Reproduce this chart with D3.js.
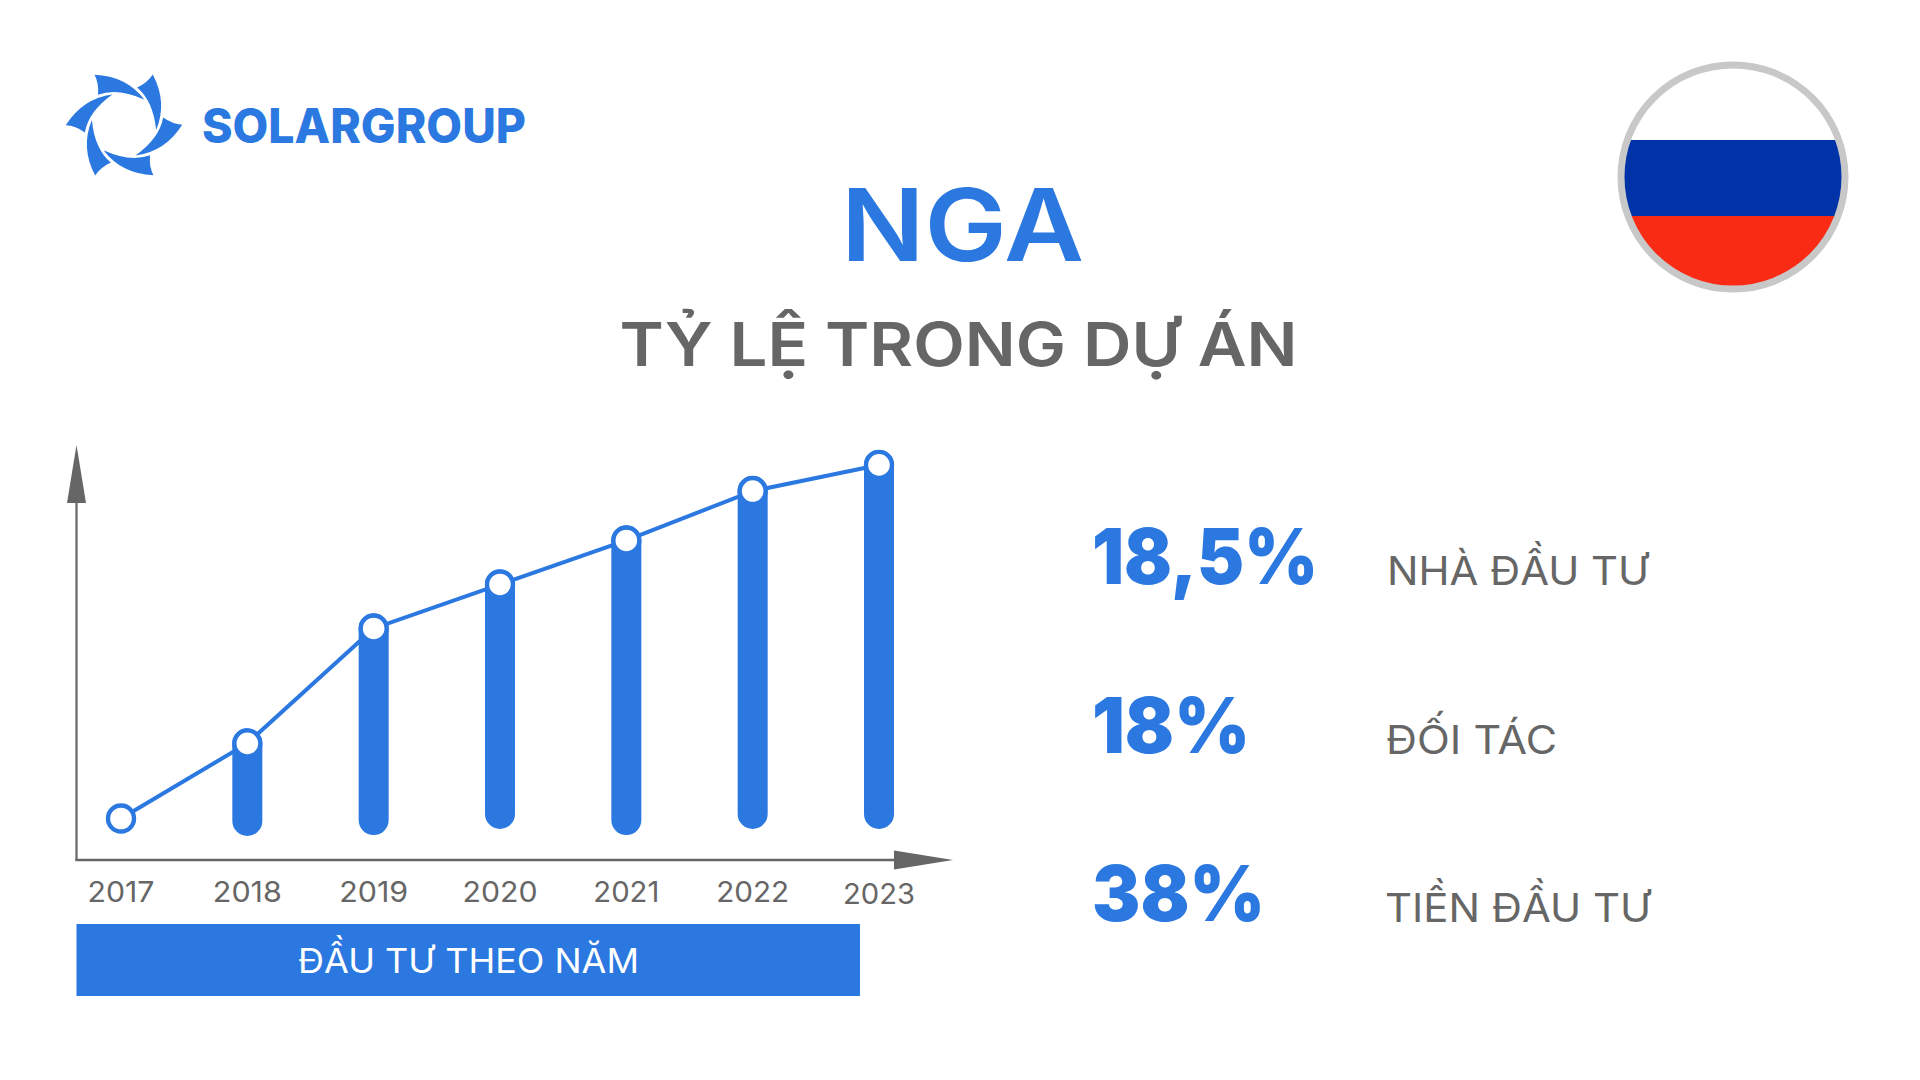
<!DOCTYPE html>
<html lang="vi">
<head>
<meta charset="utf-8">
<script src="https://cdn.jsdelivr.net/npm/d3@7"></script>
<style>
html,body{margin:0;padding:0;background:#fff;overflow:hidden}
svg{display:block}
text{font-family:Inter,"Noto Sans",sans-serif}
</style>
</head>
<body>
<svg id="chart" width="1920" height="1080"></svg>
<script>
// Data (heights on an unlabelled 0-100 axis)
const years = ["2017","2018","2019","2020","2021","2022","2023"];
const lineValues = [10,28.1,55.8,66.4,77,88.9,95.2];
const barBases = [null,5.8,6,7.5,6,7.5,7.5];
const statValues = ["18,5%","18%","38%"];
const statLabels = ["NHÀ ĐẦU TƯ","ĐỐI TÁC","TIỀN ĐẦU TƯ"];
const axisTitle = "ĐẦU TƯ THEO NĂM";
const title = "NGA";
const subtitle = "TỶ LỆ TRONG DỰ ÁN";
const brand = "SOLARGROUP";

const BLUE="#2a78e0", GREY="#666666";
const svg=d3.select("#chart");

function label(sel,o){
  return sel.append("text").attr("x",o.x).attr("y",o.y).attr("fill",o.fill)
    .attr("font-size",o.size).attr("font-weight",o.weight||400)
    .attr("text-anchor",o.anchor||"start")
    .attr("textLength",o.len).attr("lengthAdjust","spacingAndGlyphs").text(o.text);
}

// Logo
const logo=svg.append("g").attr("transform","translate(124,125) scale(1.04)");
logo.selectAll("path").data(d3.range(6)).join("path")
  .attr("transform",d=>`rotate(${d*60})`)
  .attr("d","M-28.3,-48.3 Q2.3,-47.1 19.7,-24.3 Q-6,-36 -25,-29 Q-24,-40 -28.3,-48.3Z")
  .attr("fill",BLUE);
label(svg,{x:202,y:143,fill:BLUE,size:48,weight:800,text:brand,len:324});

// Titles
label(svg,{x:841,y:261,fill:BLUE,size:101,weight:600,text:title,len:243});
label(svg,{x:619.5,y:366,fill:GREY,size:61,weight:600,text:subtitle,len:678});

// Flag
const flag=svg.append("g");
const clip=svg.append("defs").append("clipPath").attr("id","flagClip");
clip.append("circle").attr("cx",1733).attr("cy",177).attr("r",110);
const fg=flag.append("g").attr("clip-path","url(#flagClip)");
fg.append("rect").attr("x",1620).attr("y",60).attr("width",230).attr("height",80).attr("fill","#fff");
fg.append("rect").attr("x",1620).attr("y",140).attr("width",230).attr("height",76).attr("fill","#0033a8");
fg.append("rect").attr("x",1620).attr("y",216).attr("width",230).attr("height",75).attr("fill","#f92b14");
flag.append("circle").attr("cx",1733).attr("cy",177).attr("r",112).attr("fill","none").attr("stroke","#c8c8c8").attr("stroke-width",7);

// Scales
const x=d3.scalePoint().domain(years).range([121,879]);
const y=d3.scaleLinear().domain([0,100]).range([860,445]);
const data=years.map((year,i)=>({year,value:lineValues[i],base:barBases[i]}));

// Axes
const AX=76.5;
svg.append("line").attr("x1",AX).attr("x2",AX).attr("y1",y(100)+50).attr("y2",y(0)+1).attr("stroke",GREY).attr("stroke-width",2.2);
svg.append("path").attr("d",`M${AX},${y(100)}L${AX+9.5},${y(100)+58}L${AX-9.5},${y(100)+58}Z`).attr("fill",GREY);
svg.append("line").attr("x1",AX-1).attr("x2",900).attr("y1",y(0)).attr("y2",y(0)).attr("stroke",GREY).attr("stroke-width",2.6);
svg.append("path").attr("d",`M953,${y(0)}L894,${y(0)-9.5}L894,${y(0)+9.5}Z`).attr("fill",GREY);

// Bars
const BW=30;
svg.append("g").selectAll("path").data(data.filter(d=>d.base!==null)).join("path")
  .attr("fill",BLUE)
  .attr("d",d=>{
    const p=d3.path(), l=x(d.year)-BW/2, r=l+BW, t=y(d.value), b=y(d.base), R=BW/2;
    p.moveTo(l,b-R); p.lineTo(l,t); p.arc(l+R,t,R,Math.PI,0); p.lineTo(r,b-R); p.arc(l+R,b-R,R,0,Math.PI);
    p.closePath(); return p.toString();
  });

// Line
svg.append("path").datum(data)
  .attr("d",d3.line().x(d=>x(d.year)).y(d=>y(d.value)))
  .attr("fill","none").attr("stroke",BLUE).attr("stroke-width",4);

// Points
svg.append("g").selectAll("circle").data(data).join("circle")
  .attr("cx",d=>x(d.year)).attr("cy",d=>y(d.value)).attr("r",13)
  .attr("fill","#fff").attr("stroke",BLUE).attr("stroke-width",4.4);

// Year labels
const yearBaselines=[902,902,902,902,902,902,904], yearLen=[67,69,69,75,66,73,72];
svg.append("g").selectAll("text").data(years).join("text")
  .attr("x",d=>x(d)).attr("y",(d,i)=>yearBaselines[i])
  .attr("text-anchor","middle").attr("fill",GREY).attr("font-size",29)
  .attr("textLength",(d,i)=>yearLen[i]).attr("lengthAdjust","spacingAndGlyphs").text(d=>d);

// Banner
svg.append("rect").attr("x",76.5).attr("y",924).attr("width",783.5).attr("height",72).attr("fill",BLUE);
label(svg,{x:298,y:973,fill:"#fff",size:34,text:axisTitle,len:341});

// Stats
const statY=[584,753,921], statLen=[226,158,173], labLen=[262,171,266], labX=[1387,1386,1385];
statValues.forEach((s,i)=>{
  label(svg,{x:1092,y:statY[i],fill:BLUE,size:77,weight:900,text:s,len:statLen[i]});
  label(svg,{x:labX[i],y:statY[i]+1,fill:GREY,size:39,text:statLabels[i],len:labLen[i]});
});
</script>
</body>
</html>
